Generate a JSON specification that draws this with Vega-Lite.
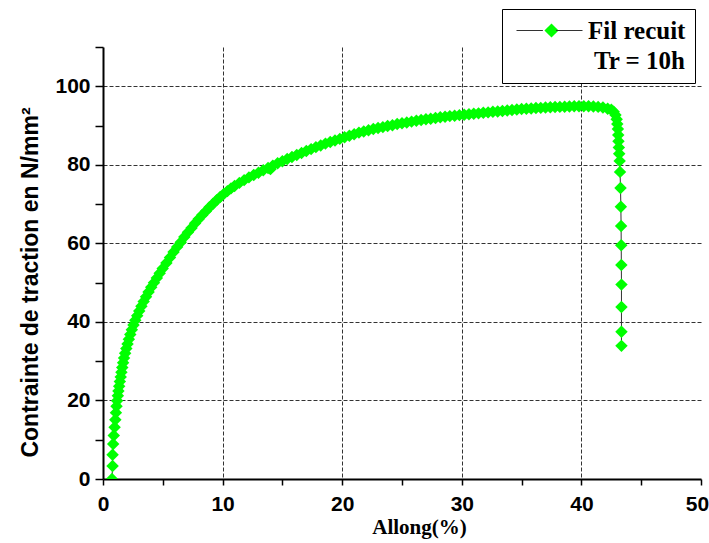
{
 "$schema": "https://vega.github.io/schema/vega-lite/v6.json",
 "width": 598,
 "height": 432,
 "autosize": "none",
 "padding": {"left": 103, "top": 47, "right": 8, "bottom": 64},
 "background": "white",
 "config": {"view": {"stroke": null}},
 "data": {"values": [
  {"allong":0.75,"contrainte":0},{"allong":0.8,"contrainte":3.3},{"allong":0.8,"contrainte":6.2},{"allong":0.85,"contrainte":8.9},{"allong":0.9,"contrainte":11.1},{"allong":0.97,"contrainte":13.2},{"allong":1.03,"contrainte":15.1},{"allong":1.08,"contrainte":16.9},{"allong":1.13,"contrainte":18.5},{"allong":1.18,"contrainte":19.9},
  {"allong":1.24,"contrainte":21.2},{"allong":1.29,"contrainte":22.4},{"allong":1.35,"contrainte":23.6},{"allong":1.41,"contrainte":24.8},{"allong":1.48,"contrainte":26},{"allong":1.54,"contrainte":27.2},{"allong":1.61,"contrainte":28.4},{"allong":1.68,"contrainte":29.6},{"allong":1.76,"contrainte":30.8},{"allong":1.85,"contrainte":32},{"allong":1.95,"contrainte":33.2},{"allong":2.05,"contrainte":34.4},{"allong":2.16,"contrainte":35.6},{"allong":2.28,"contrainte":36.8},{"allong":2.41,"contrainte":38},{"allong":2.55,"contrainte":39.2},{"allong":2.7,"contrainte":40.4},{"allong":2.86,"contrainte":41.6},{"allong":3.03,"contrainte":42.8},{"allong":3.21,"contrainte":44},{"allong":3.4,"contrainte":45.2},{"allong":3.6,"contrainte":46.4},{"allong":3.81,"contrainte":47.6},{"allong":4.03,"contrainte":48.8},{"allong":4.26,"contrainte":50},{"allong":4.5,"contrainte":51.2},{"allong":4.74,"contrainte":52.4},{"allong":4.99,"contrainte":53.6},
  {"allong":5.3,"contrainte":55.0},{"allong":5.6,"contrainte":56.4},{"allong":5.9,"contrainte":57.8},{"allong":6.2,"contrainte":59.1},{"allong":6.5,"contrainte":60.3},{"allong":6.8,"contrainte":61.6},{"allong":7.1,"contrainte":62.8},{"allong":7.4,"contrainte":63.9},{"allong":7.7,"contrainte":65.1},{"allong":8.0,"contrainte":66.2},{"allong":8.3,"contrainte":67.2},{"allong":8.6,"contrainte":68.2},{"allong":8.9,"contrainte":69.2},{"allong":9.2,"contrainte":70.1},{"allong":9.5,"contrainte":71.0},{"allong":9.8,"contrainte":71.8},{"allong":10.1,"contrainte":72.6},{"allong":10.4,"contrainte":73.3},{"allong":10.7,"contrainte":74.0},{"allong":11.0,"contrainte":74.6},{"allong":11.4,"contrainte":75.4},{"allong":11.8,"contrainte":76.1},{"allong":12.2,"contrainte":76.8},{"allong":12.6,"contrainte":77.4},{"allong":13.0,"contrainte":78.0},{"allong":13.4,"contrainte":78.6},{"allong":13.8,"contrainte":79.2},{"allong":14.0,"contrainte":78.9},{"allong":14.2,"contrainte":79.8},{"allong":14.6,"contrainte":80.4},{"allong":15.0,"contrainte":80.9},{"allong":15.4,"contrainte":81.5},{"allong":15.8,"contrainte":82.0},{"allong":16.2,"contrainte":82.5},{"allong":16.6,"contrainte":83.0},{"allong":17.0,"contrainte":83.5},{"allong":17.4,"contrainte":84.0},{"allong":17.8,"contrainte":84.5},{"allong":18.2,"contrainte":84.9},{"allong":18.6,"contrainte":85.4},{"allong":19.0,"contrainte":85.8},{"allong":19.4,"contrainte":86.2},{"allong":19.8,"contrainte":86.6},{"allong":20.2,"contrainte":87.0},{"allong":20.6,"contrainte":87.4},{"allong":21.0,"contrainte":87.8},{"allong":21.4,"contrainte":88.2},{"allong":21.8,"contrainte":88.5},{"allong":22.2,"contrainte":88.8},{"allong":22.6,"contrainte":89.1},{"allong":23.0,"contrainte":89.4},{"allong":23.4,"contrainte":89.6},{"allong":23.8,"contrainte":89.9},{"allong":24.2,"contrainte":90.1},{"allong":24.6,"contrainte":90.4},{"allong":25.0,"contrainte":90.6},{"allong":25.4,"contrainte":90.8},{"allong":25.8,"contrainte":91.0},{"allong":26.2,"contrainte":91.2},{"allong":26.6,"contrainte":91.4},{"allong":27.0,"contrainte":91.6},{"allong":27.4,"contrainte":91.75},{"allong":27.8,"contrainte":91.9},{"allong":28.2,"contrainte":92.1},{"allong":28.6,"contrainte":92.25},{"allong":29.0,"contrainte":92.4},{"allong":29.4,"contrainte":92.5},{"allong":29.8,"contrainte":92.65},{"allong":30.2,"contrainte":92.75},{"allong":30.6,"contrainte":92.9},{"allong":31.0,"contrainte":93.0},{"allong":31.4,"contrainte":93.1},{"allong":31.8,"contrainte":93.25},{"allong":32.2,"contrainte":93.35},{"allong":32.6,"contrainte":93.5},{"allong":33.0,"contrainte":93.6},{"allong":33.4,"contrainte":93.7},{"allong":33.8,"contrainte":93.85},{"allong":34.2,"contrainte":93.95},{"allong":34.6,"contrainte":94.1},{"allong":35.0,"contrainte":94.2},{"allong":35.4,"contrainte":94.3},{"allong":35.8,"contrainte":94.35},{"allong":36.2,"contrainte":94.45},{"allong":36.6,"contrainte":94.5},{"allong":37.0,"contrainte":94.6},{"allong":37.4,"contrainte":94.65},{"allong":37.8,"contrainte":94.7},{"allong":38.2,"contrainte":94.75},{"allong":38.6,"contrainte":94.8},{"allong":39.0,"contrainte":94.85},{"allong":39.4,"contrainte":94.9},{"allong":39.8,"contrainte":94.9},{"allong":40.2,"contrainte":94.9},{"allong":40.6,"contrainte":94.9},{"allong":41.0,"contrainte":94.85},{"allong":41.4,"contrainte":94.75},{"allong":41.8,"contrainte":94.6},{"allong":42.2,"contrainte":94.3},
  {"allong":42.5,"contrainte":94.0},{"allong":42.7,"contrainte":93.5},{"allong":42.85,"contrainte":92.7},{"allong":42.95,"contrainte":91.6},{"allong":43.0,"contrainte":90.4},{"allong":43.05,"contrainte":89.1},{"allong":43.08,"contrainte":87.6},{"allong":43.1,"contrainte":86.0},{"allong":43.13,"contrainte":84.4},{"allong":43.16,"contrainte":82.8},{"allong":43.2,"contrainte":81.0},{"allong":43.23,"contrainte":78.2},{"allong":43.27,"contrainte":74.1},{"allong":43.3,"contrainte":69.3},{"allong":43.32,"contrainte":64.4},{"allong":43.33,"contrainte":59.5},{"allong":43.34,"contrainte":54.5},{"allong":43.35,"contrainte":49.5},{"allong":43.35,"contrainte":43.8},{"allong":43.35,"contrainte":37.5},{"allong":43.35,"contrainte":33.9}
 ]},
 "encoding": {
  "x": {"field": "allong", "type": "quantitative",
   "scale": {"domain": [0, 50], "nice": false, "zero": false},
   "axis": {"title": "Allong(%)", "values": [0,5,10,15,20,25,30,35,40,45,50],
    "labelExpr": "datum.value % 10 === 0 ? datum.label : ''",
    "labelOffset": {"condition": {"test": "datum.value === 50", "value": -4}, "value": 0},
    "grid": true,
    "gridOpacity": {"condition": {"test": "datum.value % 10 === 0 && datum.value > 0 && datum.value < 50", "value": 1}, "value": 0},
    "gridColor": "#333333", "gridDash": [4, 2], "gridWidth": 1,
    "domainColor": "black", "domainWidth": 2, "tickColor": "black", "tickWidth": 1.5, "tickSize": 6,
    "labelPadding": 8, "labelFont": "Liberation Sans", "labelFontWeight": "bold", "labelFontSize": 21, "labelColor": "black",
    "labelFlush": false, "labelOverlap": false,
    "titleFont": "Liberation Serif", "titleFontWeight": "bold", "titleFontSize": 21, "titleColor": "black",
    "titleX": 316, "titleY": 54, "titleBaseline": "alphabetic", "titleAlign": "center"}},
  "y": {"field": "contrainte", "type": "quantitative",
   "scale": {"domain": [0, 110], "nice": false, "zero": false},
   "axis": {"title": "Contrainte de traction en N/mm²", "values": [0,10,20,30,40,50,60,70,80,90,100,110],
    "labelExpr": "datum.value % 20 === 0 && datum.value <= 100 ? datum.label : ''",
    "grid": true,
    "gridOpacity": {"condition": {"test": "datum.value % 20 === 0 && datum.value > 0 && datum.value <= 100", "value": 1}, "value": 0},
    "gridColor": "#333333", "gridDash": [4, 2], "gridWidth": 1,
    "domainColor": "black", "domainWidth": 2, "tickColor": "black", "tickWidth": 1.5, "tickSize": 8,
    "labelPadding": 5, "labelFont": "Liberation Sans", "labelFontWeight": "bold", "labelFontSize": 21, "labelColor": "black",
    "labelFlush": false, "labelOverlap": false,
    "titleFont": "Liberation Sans", "titleFontWeight": "bold", "titleFontSize": 23, "titleColor": "black",
    "titleAngle": 270, "titleX": -66, "titleY": 235, "titleBaseline": "alphabetic", "titleAlign": "center"}}
 },
 "layer": [
  {"mark": {"type": "line", "strokeWidth": 1, "clip": true},
   "encoding": {
    "order": {"value": null},
    "stroke": {"datum": "ligne", "scale": {"range": ["#333333"]},
     "legend": {"orient": "none", "legendX": 413, "legendY": -50, "padding": 0, "title": null, "zindex": 2,
      "symbolType": "M-1,0L-0.2,0M0.2,0L1,0", "symbolSize": 4356, "symbolStrokeWidth": 1,
      "symbolStrokeColor": "#444444", "symbolFillColor": "transparent",
      "labelExpr": "''", "labelFontSize": 1}}
   }},
  {"mark": {"type": "point", "shape": "diamond", "filled": true, "size": 155, "opacity": 1, "strokeWidth": 0, "clip": true},
   "encoding": {
    "color": {"datum": "Fil recuit", "scale": {"range": ["#00ff00"]},
     "legend": {"orient": "none", "legendX": 399, "legendY": -38, "padding": 9, "zindex": 1,
      "strokeColor": "black", "fillColor": "white", "cornerRadius": 0,
      "symbolType": "diamond", "symbolSize": 200, "symbolStrokeWidth": 0, "symbolOffset": 28,
      "labelOffset": 24, "labelFont": "Liberation Serif", "labelFontWeight": "bold", "labelFontSize": 25, "labelColor": "black",
      "title": "Tr = 10h", "titleOrient": "bottom", "titleAnchor": "end",
      "titleFont": "Liberation Serif", "titleFontWeight": "bold", "titleFontSize": 25, "titleColor": "black", "titlePadding": 5}}
   }}
 ]
}
